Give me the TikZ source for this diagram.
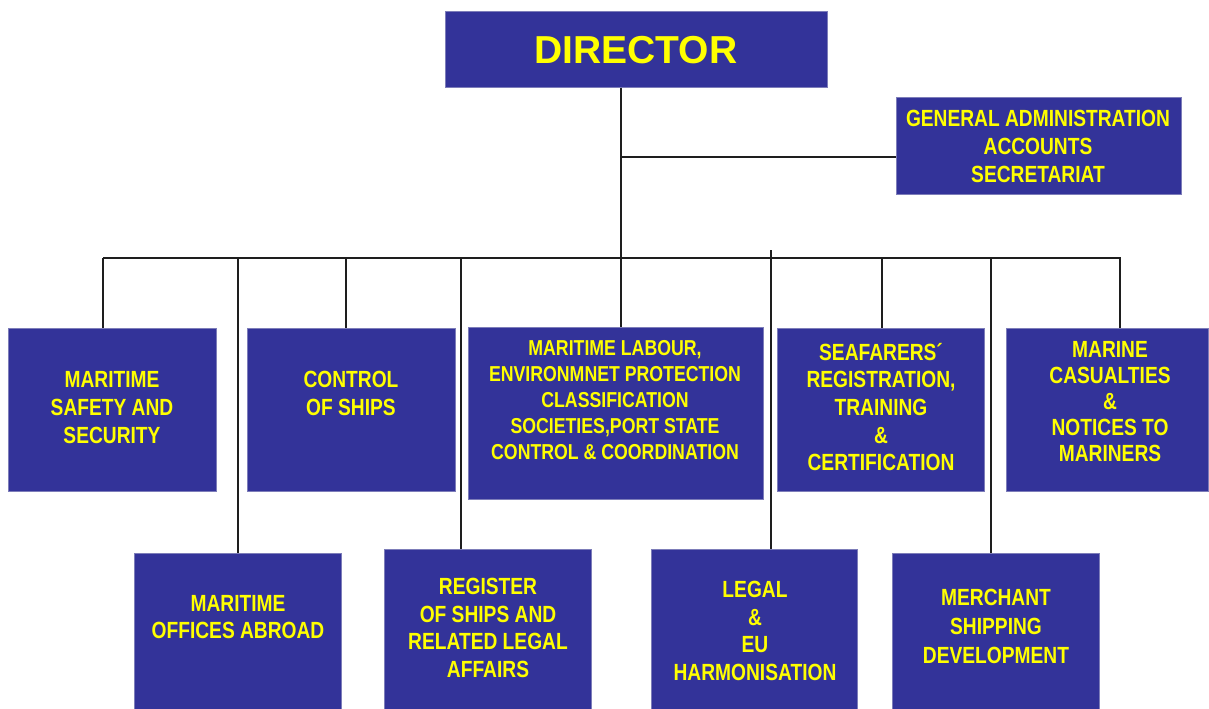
\documentclass[tikz,border=0pt]{standalone}
\usepackage{fontspec}
\setmainfont{Liberation Sans}
\newfontfamily\narrowsans[FakeStretch=0.82]{Liberation Sans}
\usepackage{tikz}
\definecolor{boxfill}{RGB}{51,51,153}
\definecolor{boxline}{RGB}{125,125,185}
\definecolor{boxtext}{RGB}{255,255,0}
\definecolor{wire}{RGB}{30,30,30}

\begin{document}
\begin{tikzpicture}[x=0.5pt, y=-0.5pt,
		unit/.style={draw=boxline, fill=boxfill, inner sep=0pt, line width=0.5pt},
		lbl/.style={text=boxtext, align=center, inner sep=0pt, font=\narrowsans\bfseries\fontsize{11.7}{13.8}\selectfont},
		link/.style={draw=wire, line width=0.6pt}]
			\useasboundingbox (0,0) rectangle (1209,708);
			%director and administration
			\node[unit, minimum width=191pt, minimum height=38pt] (director) at (636,49) {};
			\node[text=boxtext, inner sep=0pt, font=\bfseries\fontsize{19.5}{22}\selectfont] (directorT) at (636,50) {DIRECTOR};
			\node[unit, minimum width=142.5pt, minimum height=48.5pt] (ga) at (1038.5,145.5) {};
			\node[lbl, font=\narrowsans\bfseries\fontsize{11.7}{14}\selectfont] (gaT) at (1038,146) {GENERAL ADMINISTRATION\\ACCOUNTS\\SECRETARIAT};
			%first row
			\node[unit, minimum width=104pt, minimum height=81.5pt] (safety) at (112,409.5) {};
			\node[lbl] (safetyT) at (112,407.5) {MARITIME\\SAFETY AND\\SECURITY};
			\node[unit, minimum width=104pt, minimum height=81.5pt] (control) at (351,409.5) {};
			\node[lbl] (controlT) at (351,393.5) {CONTROL\\OF SHIPS};
			\node[unit, minimum width=147.5pt, minimum height=86pt] (labour) at (615.5,413) {};
			\node[lbl, font=\narrowsans\bfseries\fontsize{10.8}{13}\selectfont] (labourT) at (615,400.5) {MARITIME LABOUR,\\ENVIRONMNET PROTECTION\\CLASSIFICATION\\SOCIETIES,PORT STATE\\CONTROL \& COORDINATION};
			\node[unit, minimum width=103.5pt, minimum height=81.5pt] (seafarers) at (880.5,409.5) {};
			\node[lbl] (seafarersT) at (881,407) {SEAFARERS´\\REGISTRATION,\\TRAINING\\\&\\CERTIFICATION};
			\node[unit, minimum width=101pt, minimum height=81.5pt] (marine) at (1107,409.5) {};
			\node[lbl, font=\narrowsans\bfseries\fontsize{11.7}{13}\selectfont] (marineT) at (1110,402) {MARINE\\CASUALTIES\\\&\\NOTICES TO\\MARINERS};
			%second row
			\node[unit, minimum width=103.5pt, minimum height=81pt] (offices) at (237.5,634) {};
			\node[lbl] (officesT) at (238,617) {MARITIME\\OFFICES ABROAD};
			\node[unit, minimum width=103.5pt, minimum height=83pt] (register) at (487.5,632) {};
			\node[lbl] (registerT) at (488,628) {REGISTER\\OF SHIPS AND\\RELATED LEGAL\\AFFAIRS};
			\node[unit, minimum width=103pt, minimum height=83pt] (legal) at (754,632) {};
			\node[lbl] (legalT) at (755,631) {LEGAL\\\&\\EU\\HARMONISATION};
			\node[unit, minimum width=103.5pt, minimum height=81pt] (merchant) at (995.5,634) {};
			\node[lbl, font=\narrowsans\bfseries\fontsize{11.7}{14.5}\selectfont] (merchantT) at (996,626) {MERCHANT\\SHIPPING\\DEVELOPMENT};
			%main line and bus
			\coordinate (jdir) at (621,258);
			\coordinate (jga) at (621,157);
			\draw[link] (jdir |- director.south) -- (jdir |- labour.north);
			\draw[link] (jga) -- (jga -| ga.west);
			\coordinate (busL) at (103,258);
			\coordinate (busR) at (1121,258);
			\draw[link, line width=1.2pt] (busL) -- (busR);
			%stems
			\foreach \sx/\n in {103/safety, 346/control, 882/seafarers, 1120/marine, 238/offices, 991/merchant}{
				\coordinate (j\n) at (\sx,258);
				\draw[link] (j\n) -- (j\n |- \n.north);
			}
			\coordinate (jregister) at (461,258);
			\draw[link, line width=1.2pt] (jregister) -- (jregister |- register.north);
			\coordinate (jlegal) at (771,250);
			\draw[link] (jlegal) -- (jlegal |- legal.north);
		\end{tikzpicture}
\end{document}
